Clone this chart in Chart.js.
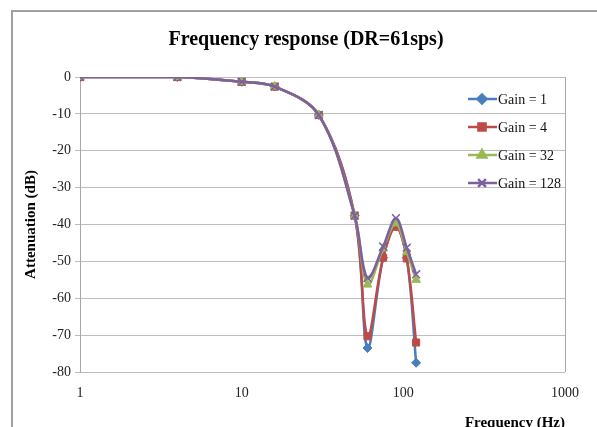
<!DOCTYPE html>
<html>
<head>
<meta charset="utf-8">
<script src="https://cdn.jsdelivr.net/npm/chart.js@4.4.0/dist/chart.umd.min.js"></script>
<style>
  html, body { margin: 0; padding: 0; background: #fff; }
  canvas { display: block; }
</style>
</head>
<body>
<canvas id="chart" width="597" height="427"></canvas>
<script>
// frequencies (Hz) and attenuation (dB) per gain setting
var freq = [1, 4, 10, 16, 30, 50, 60, 75, 90, 105, 120];
var gain1 = [0, 0, -1.3, -2.6, -10.3, -37.6, -73.5, -49, -40.5, -49, -77.5];
var gain4 = [0, 0, -1.3, -2.6, -10.3, -37.6, -70.3, -49, -40.6, -49.2, -72];
var gain32 = [0, 0, -1.3, -2.6, -10.3, -37.6, -56.3, -46.5, -39.7, -47.5, -55];
var gain128 = [0, 0, -1.3, -2.6, -10.3, -37.6, -54.5, -46, -38.3, -46.3, -53.5];
var seriesNames = ['Gain = 1', 'Gain = 4', 'Gain = 32', 'Gain = 128'];
var xTicks = [1, 10, 100, 1000];

var serif = 'Liberation Serif';

function pts(ys) {
    return freq.map(function(f, i) { return {x: f, y: ys[i]}; });
}

function series(label, ys, color, style, radius, order) {
    return {
        label: label,
        data: pts(ys),
        borderColor: color,
        backgroundColor: color,
        borderWidth: 2.5,
        tension: 0.35,
        pointStyle: style,
        pointRadius: radius,
        pointBorderWidth: style === 'crossRot' ? 1.5 : 1,
        pointBackgroundColor: color,
        pointBorderColor: color,
        order: order
    };
}

// frame, title and legend drawn by hand (Excel style)
var decor = {
    id: 'decor',
    beforeDraw: function(chart) {
        var ctx = chart.ctx;
        ctx.save();
        ctx.strokeStyle = '#a0a0a0';
        ctx.lineWidth = 2;
        ctx.beginPath();
        ctx.moveTo(12, 427);
        ctx.lineTo(12, 11);
        ctx.lineTo(597, 11);
        ctx.stroke();
        ctx.fillStyle = '#000';
        ctx.font = 'bold 20px ' + serif;
        ctx.textAlign = 'center';
        ctx.textBaseline = 'alphabetic';
        ctx.fillText('Frequency response (DR=61sps)', 306, 45);
        ctx.restore();
    },
    afterDraw: function(chart) {
        var ctx = chart.ctx;
        var rows = [99, 127, 155, 183];
        ctx.save();
        chart.data.datasets.forEach(function(ds, i) {
            var y = rows[i];
            ctx.strokeStyle = ds.borderColor;
            ctx.lineWidth = 2.5;
            ctx.beginPath();
            ctx.moveTo(468, y);
            ctx.lineTo(497, y);
            ctx.stroke();
            Chart.helpers.drawPoint(ctx, {
                pointStyle: ds.pointStyle,
                radius: ds.pointRadius,
                borderWidth: ds.pointBorderWidth,
                rotation: 0
            }, 482, y);
            ctx.fillStyle = ds.borderColor;
            ctx.fill();
            ctx.fillStyle = '#111';
            ctx.font = '14px ' + serif;
            ctx.textAlign = 'left';
            ctx.textBaseline = 'middle';
            ctx.fillText(ds.label, 498, y + 1);
        });
        ctx.restore();
    }
};

var ctx = document.getElementById('chart');
var chart = new Chart(ctx, {
    type: 'line',
    data: {
        datasets: [
            series(seriesNames[0], gain1, '#4a7ebb', 'rectRot', 4.5, 4),
            series(seriesNames[1], gain4, '#be4b48', 'rect', 5, 3),
            series(seriesNames[2], gain32, '#98b954', 'triangle', 5, 2),
            series(seriesNames[3], gain128, '#7d60a0', 'crossRot', 5.5, 1)
        ]
    },
    options: {
        responsive: false,
        animation: false,
        layout: { padding: { left: 14, right: 32, top: 77, bottom: 0 } },
        plugins: {
            legend: { display: false },
            tooltip: { enabled: false }
        },
        scales: {
            x: {
                type: 'logarithmic',
                min: 1,
                max: 1000,
                afterBuildTicks: function(s) {
                    s.ticks = xTicks.map(function(v) { return {value: v}; });
                },
                afterFit: function(s) { s.height = 55; },
                ticks: {
                    padding: 13,
                    color: '#222',
                    autoSkip: false,
                    maxRotation: 0,
                    font: { family: serif, size: 14 },
                    callback: function(v) { return String(v); }
                },
                grid: {
                    drawTicks: false,
                    color: function(c) {
                        return (c.tick && c.tick.value === 1000) ? '#a8a8a8' : 'rgba(0,0,0,0)';
                    }
                },
                border: { display: false },
                title: {
                    display: true,
                    text: 'Frequency (Hz)',
                    align: 'end',
                    color: '#000',
                    padding: 0,
                    font: { family: serif, size: 15, weight: 'bold', lineHeight: 0.5 }
                }
            },
            y: {
                min: -80,
                max: 0,
                afterFit: function(s) { s.width = 66; },
                ticks: {
                    stepSize: 10,
                    padding: 4,
                    color: '#222',
                    font: { family: serif, size: 14 }
                },
                grid: { color: '#bdbdbd', tickLength: 5 },
                border: { color: '#a8a8a8' },
                title: {
                    display: true,
                    text: 'Attenuation (dB)',
                    color: '#000',
                    padding: { top: 10, bottom: 0 },
                    font: { family: serif, size: 15, weight: 'bold', lineHeight: 1 }
                }
            }
        }
    },
    plugins: [decor]
});
</script>
</body>
</html>
